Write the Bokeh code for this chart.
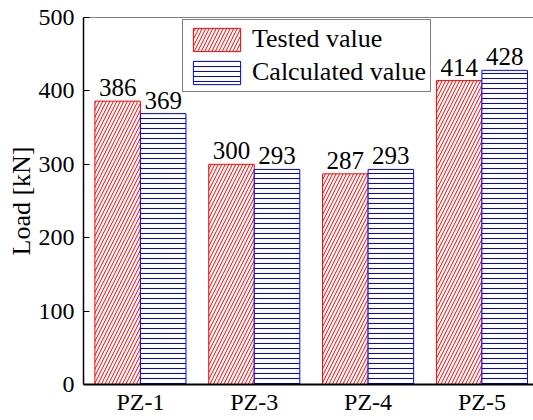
from bokeh.plotting import figure
from bokeh.models import ColumnDataSource, FixedTicker, Span, Legend, LegendItem
from bokeh.embed import file_html
from bokeh.resources import INLINE

# Specimens and peak loads (kN)
specimens = ["PZ-1", "PZ-3", "PZ-4", "PZ-5"]
tested = [386, 300, 287, 414]
calculated = [369, 293, 293, 428]

FONT = "Liberation Serif"
BAR_W = 0.4

pos = [i + 1 for i in range(len(specimens))]
src_t = ColumnDataSource(dict(x=[p - BAR_W / 2 for p in pos], top=tested,
                              label=[str(v) for v in tested]))
src_c = ColumnDataSource(dict(x=[p + BAR_W / 2 for p in pos], top=calculated,
                              label=[str(v) for v in calculated]))

p = figure(width=533, height=420, output_backend="svg", toolbar_location=None,
           x_range=(0.5, 4.453), y_range=(0, 500),
           min_border_left=83, min_border_right=0, min_border_top=17,
           min_border_bottom=36)
p.outline_line_color = None
p.grid.visible = False
p.background_fill_color = "white"
p.border_fill_color = "white"

r_t = p.vbar(x="x", top="top", width=BAR_W, source=src_t, fill_color="white",
             line_color="red", line_width=1, hatch_pattern="/", hatch_color="red",
             hatch_scale=7, hatch_weight=1)
r_c = p.vbar(x="x", top="top", width=BAR_W, source=src_c, fill_color="white",
             line_color="blue", line_width=1, hatch_pattern="-", hatch_color="blue",
             hatch_scale=5, hatch_weight=1)

for src in (src_t, src_c):
    p.text(x="x", y="top", text="label", source=src, text_align="center",
           text_baseline="bottom", y_offset=-5, text_font=FONT,
           text_font_size="25px", text_color="black")

# top border line
p.add_layout(Span(location=500, dimension="width", line_color="black", line_width=1.2))

xa = p.xaxis[0]
xa.ticker = FixedTicker(ticks=pos)
xa.major_label_overrides = {p_: s for p_, s in zip(pos, specimens)}
xa.major_tick_line_color = None
xa.major_tick_in = 0
xa.major_tick_out = 0
xa.minor_tick_line_color = None
xa.axis_line_width = 2
xa.axis_line_color = "black"
xa.major_label_text_font = FONT
xa.major_label_text_font_size = "24px"
xa.major_label_text_color = "black"
xa.major_label_standoff = 4

ya = p.yaxis[0]
ya.ticker = FixedTicker(ticks=[0, 100, 200, 300, 400, 500])
ya.major_tick_in = 6
ya.major_tick_out = 0
ya.minor_tick_line_color = None
ya.axis_line_width = 1.5
ya.axis_line_color = "black"
ya.major_tick_line_color = "black"
ya.major_label_text_font = FONT
ya.major_label_text_font_size = "24px"
ya.major_label_text_color = "black"
ya.major_label_standoff = 9
ya.axis_label = "Load [kN]"
ya.axis_label_text_font = FONT
ya.axis_label_text_font_size = "26px"
ya.axis_label_text_font_style = "normal"
ya.axis_label_text_color = "black"
ya.axis_label_standoff = 0

legend = Legend(items=[LegendItem(label="Tested value", renderers=[r_t]),
                       LegendItem(label="Calculated value", renderers=[r_c])],
                location=(99, 292), orientation="vertical",
                glyph_width=59, glyph_height=29, label_standoff=6,
                padding=4, spacing=3, margin=0,
                label_text_font=FONT, label_text_font_size="26px",
                label_text_color="black",
                border_line_color="black", border_line_width=1,
                background_fill_color="white", background_fill_alpha=1)
p.add_layout(legend, "center")

open("out.html", "w").write(file_html(p, INLINE))
